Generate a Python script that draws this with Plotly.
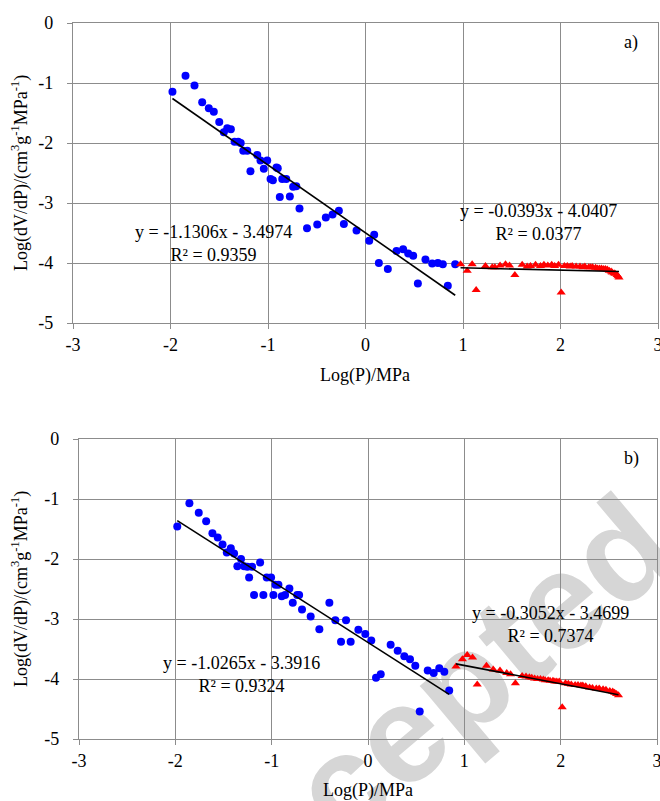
import plotly.graph_objects as go
import numpy as np

# ---------------- data ----------------
# panel a) blue circles (low pressure region)
a_blue_x = [-1.98, -1.846, -1.754, -1.675, -1.607, -1.556, -1.50, -1.453, -1.418, -1.381,
            -1.343, -1.306, -1.28, -1.254, -1.213, -1.18, -1.11, -1.077, -1.043, -1.008,
            -0.974, -0.95, -0.913, -0.9, -0.879, -0.854, -0.813, -0.776, -0.742, -0.71,
            -0.677, -0.6, -0.495, -0.407, -0.338, -0.273, -0.222, -0.092, 0.038, 0.089,
            0.137, 0.229, 0.318, 0.386, 0.438, 0.489, 0.537, 0.615, 0.684, 0.742,
            0.793, 0.844, 0.92]
a_blue_y = [-1.145, -0.878, -1.04, -1.32, -1.42, -1.48, -1.65, -1.82, -1.755, -1.77,
            -1.98, -1.98, -2.0, -2.13, -2.13, -2.47, -2.2, -2.29, -2.43, -2.29,
            -2.6, -2.62, -2.41, -2.42, -2.9, -2.6, -2.6, -2.89, -2.73, -2.72,
            -3.09, -3.42, -3.36, -3.24, -3.19, -3.13, -3.35, -3.46, -3.63, -3.53,
            -4.0, -4.1, -3.8, -3.77, -3.84, -3.88, -4.34, -3.94, -4.01, -4.0,
            -4.02, -4.38, -4.02]
# panel a) red triangles (high pressure region)
a_red_x = [0.975, 1.043, 1.094, 1.135, 1.23, 1.30, 1.327, 1.38, 1.436, 1.477,
           1.532, 1.607, 1.658, 1.692, 1.744, 1.795, 1.83, 1.87, 1.91, 1.94,
           1.98, 2.007, 2.04, 2.07, 2.10, 2.12, 2.16, 2.20, 2.23, 2.25,
           2.29, 2.31, 2.33, 2.36, 2.38, 2.40, 2.42, 2.44, 2.46, 2.48,
           2.50, 2.52, 2.53, 2.55, 2.56, 2.58, 2.59, 2.60]
a_red_y = [-4.02, -4.13, -4.02, -4.45, -4.05, -4.07, -4.07, -4.04, -4.02, -4.04,
           -4.20, -4.03, -4.06, -4.05, -4.03, -4.05, -4.03, -4.04, -4.03, -4.05,
           -4.03, -4.49, -4.05, -4.05, -4.06, -4.05, -4.06, -4.06, -4.07, -4.06,
           -4.07, -4.07, -4.07, -4.08, -4.09, -4.09, -4.09, -4.10, -4.10, -4.11,
           -4.13, -4.14, -4.16, -4.17, -4.18, -4.20, -4.22, -4.24]

# panel b) blue circles
b_blue_x = [-1.98, -1.854, -1.757, -1.68, -1.615, -1.56, -1.51, -1.466, -1.424, -1.39,
            -1.356, -1.318, -1.286, -1.252, -1.234, -1.203, -1.183, -1.12, -1.086, -1.051,
            -1.006, -0.982, -0.96, -0.93, -0.895, -0.861, -0.816, -0.781, -0.735, -0.715,
            -0.685, -0.595, -0.505, -0.401, -0.339, -0.28, -0.228, -0.18, -0.1, -0.028,
            0.034, 0.083, 0.132, 0.235, 0.308, 0.377, 0.436, 0.491, 0.537, 0.62,
            0.682, 0.74, 0.792, 0.843]
b_blue_y = [-1.46, -1.07, -1.23, -1.37, -1.57, -1.64, -1.76, -1.89, -1.82, -1.91,
            -2.12, -2.0, -2.12, -2.13, -2.31, -2.13, -2.6, -2.06, -2.6, -2.31,
            -2.31, -2.6, -2.43, -2.43, -2.62, -2.6, -2.49, -2.73, -2.6, -2.6,
            -2.84, -2.96, -3.17, -2.73, -3.02, -3.38, -3.02, -3.38, -3.18, -3.25,
            -3.36, -3.98, -3.92, -3.43, -3.53, -3.62, -3.67, -3.78, -4.54, -3.86,
            -3.9, -3.82, -3.88, -4.19]
# panel b) red triangles
b_red_x = [0.913, 0.98, 1.03, 1.085, 1.134, 1.23, 1.30, 1.37, 1.44, 1.48,
           1.53, 1.60, 1.64, 1.675, 1.70, 1.73, 1.76, 1.79, 1.82, 1.84,
           1.87, 1.89, 1.92, 1.94, 1.96, 1.985, 2.016, 2.05, 2.08, 2.11,
           2.15, 2.18, 2.21, 2.23, 2.26, 2.30, 2.33, 2.37, 2.40, 2.44,
           2.47, 2.51, 2.54, 2.56, 2.58, 2.60]
b_red_y = [-3.79, -3.67, -3.60, -3.64, -4.09, -3.78, -3.84, -3.86, -3.90, -3.92,
           -4.07, -3.95, -3.96, -3.97, -3.98, -3.99, -4.00, -4.00, -4.01, -4.02,
           -4.02, -4.03, -4.03, -4.04, -4.04, -4.04, -4.47, -4.07, -4.08, -4.09,
           -4.10, -4.10, -4.11, -4.11, -4.12, -4.14, -4.15, -4.16, -4.16, -4.17,
           -4.18, -4.20, -4.21, -4.23, -4.25, -4.27]

# trendline coefficients (slope, intercept, R^2) as printed on the chart
a_blue_fit = [-1.1306, -3.4974, 0.9359]
a_red_fit = [-0.0393, -4.0407, 0.0377]
b_blue_fit = [-1.0265, -3.3916, 0.9324]
b_red_fit = [-0.3052, -3.4699, 0.7374]

x_ticks = [-3, -2, -1, 0, 1, 2, 3]
y_ticks = [0, -1, -2, -3, -4, -5]
tick_text_x = ["-3", "-2", "-1", "0", "1", "2", "3"]
tick_text_y = ["0", "-1", "-2", "-3", "-4", "-5"]
panel_labels = ["a)", "b)"]

# ---------------- figure ----------------
W, H = 660, 801
ML, MR, MT, MB = 73, 2, 23, 62
PW = W - ML - MR
PH = H - MT - MB

def py2paper(py):
    return (H - MB - py) / PH

def px2paper(px):
    return (px - ML) / PW

FONT = "Liberation Serif, Times New Roman, serif"
FS = 18
GRID = "#8c8c8c"
BLUE = "#0000ff"
RED = "#ff0000"

fig = go.Figure()

panels = [
    ("x", "y", a_blue_x, a_blue_y, a_red_x, a_red_y, a_blue_fit, a_red_fit),
    ("x2", "y2", b_blue_x, b_blue_y, b_red_x, b_red_y, b_blue_fit, b_red_fit),
]

for xa, ya, bx, by, rx, ry, bf, rf in panels:
    fig.add_trace(go.Scatter(x=bx, y=by, mode="markers", xaxis=xa, yaxis=ya,
                             marker=dict(symbol="circle", size=8, color=BLUE),
                             showlegend=False, hoverinfo="x+y"))
    fig.add_trace(go.Scatter(x=rx, y=ry, mode="markers", xaxis=xa, yaxis=ya,
                             marker=dict(symbol="triangle-up", size=8, color=RED),
                             showlegend=False, hoverinfo="x+y"))
    for xs, fit in ((bx, bf), (rx, rf)):
        lx = np.array([min(xs), max(xs)])
        ly = fit[0] * lx + fit[1]
        fig.add_trace(go.Scatter(x=lx, y=ly, mode="lines", xaxis=xa, yaxis=ya,
                                 line=dict(color="black", width=1.6),
                                 showlegend=False, hoverinfo="skip"))

def fmt_eq(fit):
    s, b, r2 = fit
    sign = "-" if b < 0 else "+"
    return f"y = {s:.4f}x {sign} {abs(b):.4f}<br>R² = {r2:.4f}"

axis_common = dict(
    range=[-3, 3], tickvals=x_ticks, ticktext=tick_text_x,
    showgrid=True, gridcolor=GRID, gridwidth=1.2,
    showline=True, linecolor=GRID, linewidth=1.2, mirror=True,
    zeroline=False, ticks="outside", ticklen=5, tickcolor=GRID, tickwidth=1.2,
    tickfont=dict(family=FONT, size=FS, color="black"), fixedrange=True,
    automargin=False, ticklabeloverflow="allow",
)
yaxis_common = dict(
    range=[-5, 0], tickvals=y_ticks, ticktext=tick_text_y,
    showgrid=True, gridcolor=GRID, gridwidth=1.2,
    showline=True, linecolor=GRID, linewidth=1.2, mirror=True,
    zeroline=False, ticks="outside", ticklen=5, tickcolor=GRID, tickwidth=1.2,
    tickfont=dict(family=FONT, size=FS, color="black"), fixedrange=True,
    ticklabelstandoff=10, automargin=False, ticklabeloverflow="allow",
)

top_dom = [py2paper(323), 1.0]
bot_dom = [0.0, py2paper(439)]

fig.update_layout(
    width=W, height=H,
    margin=dict(l=ML, r=MR, t=MT, b=MB),
    paper_bgcolor="white", plot_bgcolor="rgba(0,0,0,0)",
    font=dict(family=FONT, size=FS, color="black"),
    xaxis=dict(axis_common, domain=[0, 1], anchor="y"),
    yaxis=dict(yaxis_common, domain=top_dom, anchor="x"),
    xaxis2=dict(axis_common, domain=[px2paper(79), px2paper(657)], anchor="y2"),
    yaxis2=dict(yaxis_common, domain=bot_dom, anchor="x2"),
)

ann = []
# equations
ann.append(dict(x=-1.56, y=-3.67, xref="x", yref="y", text=fmt_eq(a_blue_fit), showarrow=False,
                font=dict(family=FONT, size=FS), align="center"))
ann.append(dict(x=1.77, y=-3.32, xref="x", yref="y", text=fmt_eq(a_red_fit), showarrow=False,
                font=dict(family=FONT, size=FS), align="center"))
ann.append(dict(x=-1.31, y=-3.93, xref="x2", yref="y2", text=fmt_eq(b_blue_fit), showarrow=False,
                font=dict(family=FONT, size=FS), align="center"))
ann.append(dict(x=1.89, y=-3.09, xref="x2", yref="y2", text=fmt_eq(b_red_fit), showarrow=False,
                font=dict(family=FONT, size=FS), align="center"))
# panel labels
ann.append(dict(x=2.72, y=-0.33, xref="x", yref="y", text=panel_labels[0], showarrow=False,
                font=dict(family=FONT, size=FS)))
ann.append(dict(x=2.74, y=-0.32, xref="x2", yref="y2", text=panel_labels[1], showarrow=False,
                font=dict(family=FONT, size=FS)))
# axis titles
ytitle = "Log(dV/dP)/(cm<sup>3</sup>g<sup>-1</sup>MPa<sup>-1</sup>)"
for cy in (173, 589):
    ann.append(dict(x=px2paper(20), y=py2paper(cy), xref="paper", yref="paper", text=ytitle,
                    textangle=-90, showarrow=False, xanchor="center", yanchor="middle",
                    font=dict(family=FONT, size=FS)))
for cx, cy in ((365, 375), (368, 790)):
    ann.append(dict(x=px2paper(cx), y=py2paper(cy), xref="paper", yref="paper", text="Log(P)/MPa",
                    showarrow=False, xanchor="center", yanchor="middle",
                    font=dict(family=FONT, size=FS)))
fig.update_layout(annotations=ann)

# watermark, drawn beneath the grid and the data
wx, wy = px2paper(705), py2paper(462)
fig.add_shape(type="rect", xref="paper", yref="paper",
              x0=wx - 0.01, x1=wx + 0.01, y0=wy - 0.01, y1=wy + 0.01,
              line=dict(width=0), fillcolor="rgba(0,0,0,0)", layer="below",
              label=dict(text="Accepted manuscript", textangle=-40,
                         textposition="middle center",
                         font=dict(family="Liberation Sans, Arial, sans-serif", size=138,
                                   color="#d6d6d6", weight="bold")))

fig.write_html("out.html", config={"displayModeBar": False},
               post_script="document.body.style.margin='0px';")
